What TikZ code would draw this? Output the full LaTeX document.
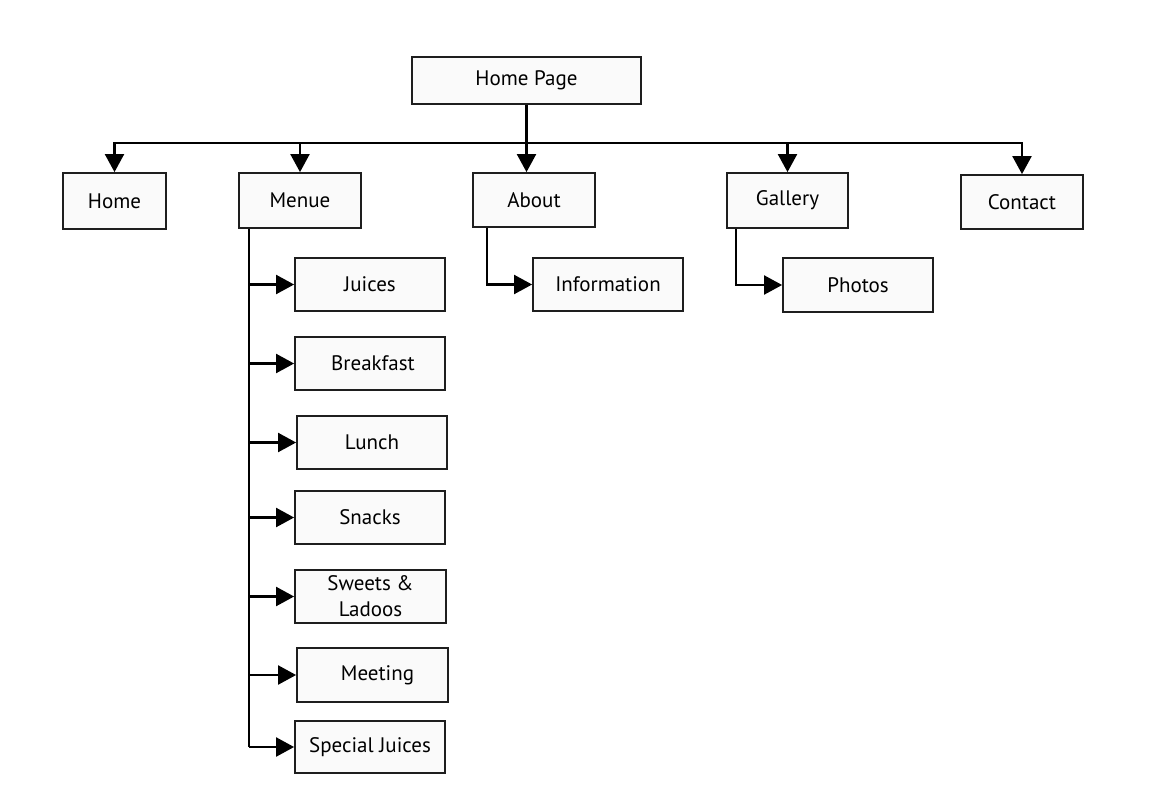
\documentclass[tikz,border=0pt]{standalone}
\usepackage{fontspec}
\setmainfont{PT Sans}
\usetikzlibrary{arrows.meta}
\definecolor{boxfill}{HTML}{FAFAFA}
\definecolor{boxline}{HTML}{1E1E1E}
\tikzset{
  pbox/.style={draw=boxline, line width=1.8pt, fill=boxfill, inner sep=0pt,
    font=\fontsize{21}{26}\selectfont, align=center},
  conn/.style={draw=black, line width=2.1pt},
  thinconn/.style={draw=black, line width=1.3pt},
  tip/.style={-{Triangle[length=18pt,width=19pt]}},
  tips/.style={{Triangle[length=18pt,width=19pt]}-{Triangle[length=18pt,width=19pt]}}
}
\newcommand{\pb}[6]{\node[pbox, minimum width=#4pt, minimum height=#5pt] (#1) at (#2,#3) {#6};}
\begin{document}
\begin{tikzpicture}[x=1pt,y=-1pt]
\useasboundingbox[fill=white] (0,0) rectangle (1151,808);
% top level
\pb{hp}{526.5}{80.5}{229}{47}{Home Page}
\pb{home}{114.5}{201}{103}{56}{Home}
\pb{menu}{300}{200.5}{122}{55}{Menue}
\pb{about}{534}{200}{122}{54}{About}
\pb{gallery}{787.5}{200.5}{121}{55}{Gallery}
\pb{contact}{1022}{202}{122}{54}{Contact}
% second level
\pb{info}{608}{284.5}{150}{53}{Information}
\pb{photos}{858}{285}{150}{54}{Photos}
\pb{juices}{370}{284.5}{150}{53}{Juices}
\pb{breakfast}{370}{363.5}{150}{53}{\hspace*{6pt}Breakfast}
\pb{lunch}{372}{442.5}{150}{53}{Lunch}
\pb{snacks}{370}{517.5}{150}{53}{Snacks}
\pb{sweets}{370.5}{596.5}{151}{53}{Sweets \&\\Ladoos}
\pb{meeting}{372.5}{675}{151}{54}{\hspace*{10pt}Meeting}
\pb{special}{370}{747}{150}{52}{Special Juices}
% bus
\coordinate (bus) at (526.5,143);
\draw[conn,tips] (home.north) -- (home.north |- bus) -- (contact.north |- bus) -- (contact.north);
\draw[conn,tip] (menu.north |- bus) -- (menu.north);
\draw[conn,tip] (hp.south) -- (hp.south |- about.north);
\draw[conn,tip] (gallery.north |- bus) -- (gallery.north);
% menu column
\coordinate (mx) at (249,228);
\draw[thinconn] (menu.south -| mx) -- (mx |- special.west);
\foreach \n in {juices,breakfast,lunch,snacks,sweets,meeting,special}{
  \draw[conn,tip] (mx |- \n.west) -- (\n.west);
}
% about / gallery
\coordinate (ax) at (487,227);
\draw[conn,line width=1.8pt] (about.south -| ax) -- (ax |- info.west);
\draw[conn,tip] ([xshift=-0.9pt]ax |- info.west) -- (info.west);
\coordinate (gx) at (736,228);
\draw[conn,line width=1.8pt] (gallery.south -| gx) -- (gx |- photos.west);
\draw[conn,tip] ([xshift=-0.9pt]gx |- photos.west) -- (photos.west);
\end{tikzpicture}
\end{document}
